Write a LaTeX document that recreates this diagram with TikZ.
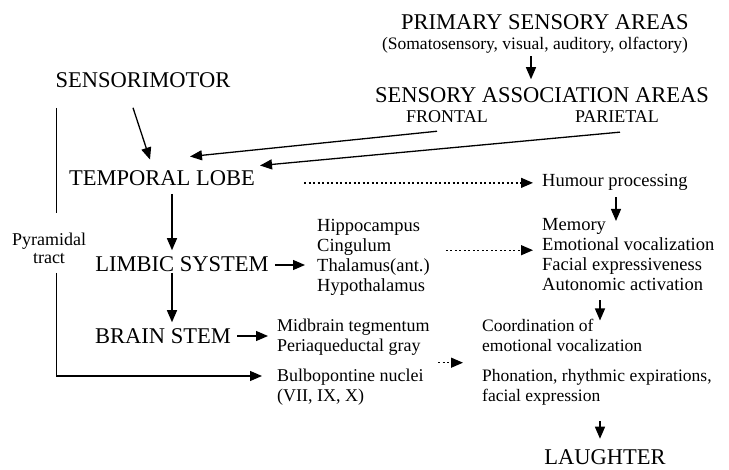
\documentclass[tikz,border=0pt]{standalone}
\usepackage{fontspec}
\setmainfont{Liberation Serif}
\usetikzlibrary{arrows.meta,calc}
\begin{document}
\begin{tikzpicture}[x=1pt,y=-1pt,
  big/.style={inner sep=0pt,font=\fontsize{22.5}{24}\selectfont},
  med/.style={inner sep=0pt,font=\fontsize{18}{20}\selectfont},
  sm/.style={inner sep=0pt,font=\fontsize{18.5}{20}\selectfont,align=left},
  smw/.style={inner sep=0pt,font=\fontsize{18}{20}\selectfont,align=left},
  smr/.style={inner sep=0pt,font=\fontsize{17.5}{20}\selectfont,align=left},
  plainline/.style={line width=1.3pt},
  arr/.style={line width=1.3pt,-{Triangle[length=12pt,width=10pt]}},
  dotarr/.style={line width=1.3pt,dash pattern=on 2pt off 2.5pt,-{Triangle[length=12pt,width=10pt]}}]
\useasboundingbox (0,0) rectangle (729,470);

% nodes
\node[big] (prim) at (545,22) {PRIMARY SENSORY AREAS};
\node[inner sep=0pt,font=\fontsize{17.5}{19}\selectfont] (primsub) at (535,45) {(Somatosensory, visual, auditory, olfactory)};
\node[big] (assoc) at (542,95) {SENSORY ASSOCIATION AREAS};
\node[med] (frontal) at (447,117) {FRONTAL};
\node[med] (parietal) at (617,117) {PARIETAL};
\node[big] (sensori) at (143,80) {SENSORIMOTOR};
\node[big] (temporal) at (162,178) {TEMPORAL LOBE};
\node[sm,anchor=base west] (humour) at (542,187) {Humour processing};
\node[sm,anchor=north west] (memory) at (542,216) {\strut Memory\\\strut Emotional vocalization\\\strut Facial expressiveness\\\strut Autonomic activation};
\node[big] (limbic) at (182,264) {LIMBIC SYSTEM};
\node[sm,anchor=north west] (hippo) at (317,217) {\strut Hippocampus\\\strut Cingulum\\\strut Thalamus(ant.)\\\strut Hypothalamus};
\node[big] (brain) at (163,336) {BRAIN STEM};
\node[smw,anchor=north west] (midbrain) at (277,317.5) {\strut Midbrain tegmentum\\\strut Periaqueductal gray};
\node[smw,anchor=north west] (bulbo) at (277,367.5) {\strut Bulbopontine nuclei\\\strut (VII, IX, X)};
\node[smr,anchor=north west] (coord) at (482,317.5) {\strut Coordination of\\\strut emotional vocalization};
\node[smr,anchor=north west] (phon) at (482,367.5) {\strut Phonation, rhythmic expirations,\\\strut facial expression};
\node[inner sep=0pt,font=\fontsize{18}{18}\selectfont,align=center,anchor=north] (pyr) at (49,232.4) {\strut Pyramidal\\\strut tract};
\node[big] (laughter) at (605,457) {LAUGHTER};

% connectors
\draw[arr] ($(primsub.south -| 531,0)+(0,3)$) -- ($(assoc.north -| 531,0)+(0,-8)$);
\draw[arr] ($(frontal.south)+(-10,8)$) -- ($(temporal.north)+(28,-13.7)$);
\draw[arr] ($(parietal.south)+(3,9)$) -- ($(temporal.north east)+(5,-4.7)$);
\draw[arr] ($(sensori.south)+(-10,20)$) -- ($(temporal.north)+(-12,-10.7)$);
\draw[plainline] ($(sensori.south west)+(1,20)$) -- ($(pyr.north -| sensori.south west)+(1,-19)$);
\draw[arr] ($(pyr.south -| sensori.south west)+(1,4)$) |- ($(bulbo.north west)+(-15,8.5)$);
\draw[dotarr] ($(temporal.east |- humour.west)+(49,0)$) -- ($(humour.west)+(-9,0)$);
\draw[arr] ($(humour.south west)+(74,6)$) -- ($(memory.north west)+(74,5)$);
\draw[arr] ($(temporal.south)+(10,8)$) -- ($(temporal.south |- limbic.north)+(10,-6)$);
\draw[arr] ($(limbic.south)+(-10,1)$) -- ($(limbic.south |- brain.north)+(-10,-6)$);
\draw[arr] ($(limbic.east)+(6,1)$) -- ($(limbic.east -| hippo.west)+(-12,1)$);
\draw[dotarr] ($(hippo.east)+(16,-7)$) -- ($(memory.west |- hippo.east)+(-9,-7)$);
\draw[arr] ($(brain.east)+(6,0)$) -- ($(brain.east -| midbrain.west)+(-9,0)$);
\draw[dotarr] ($(coord.south west)!0.5!(phon.north west)+(-44,0)$) -- ($(coord.south west)!0.5!(phon.north west)+(-19,0)$);
\draw[arr] ($(memory.south -| coord.west)+(118,4)$) -- ($(coord.north west)+(118,3)$);
\draw[arr] ($(phon.south west)+(118,13)$) -- ($(laughter.north -| phon.west)+(118,-10.5)$);
\end{tikzpicture}
\end{document}
